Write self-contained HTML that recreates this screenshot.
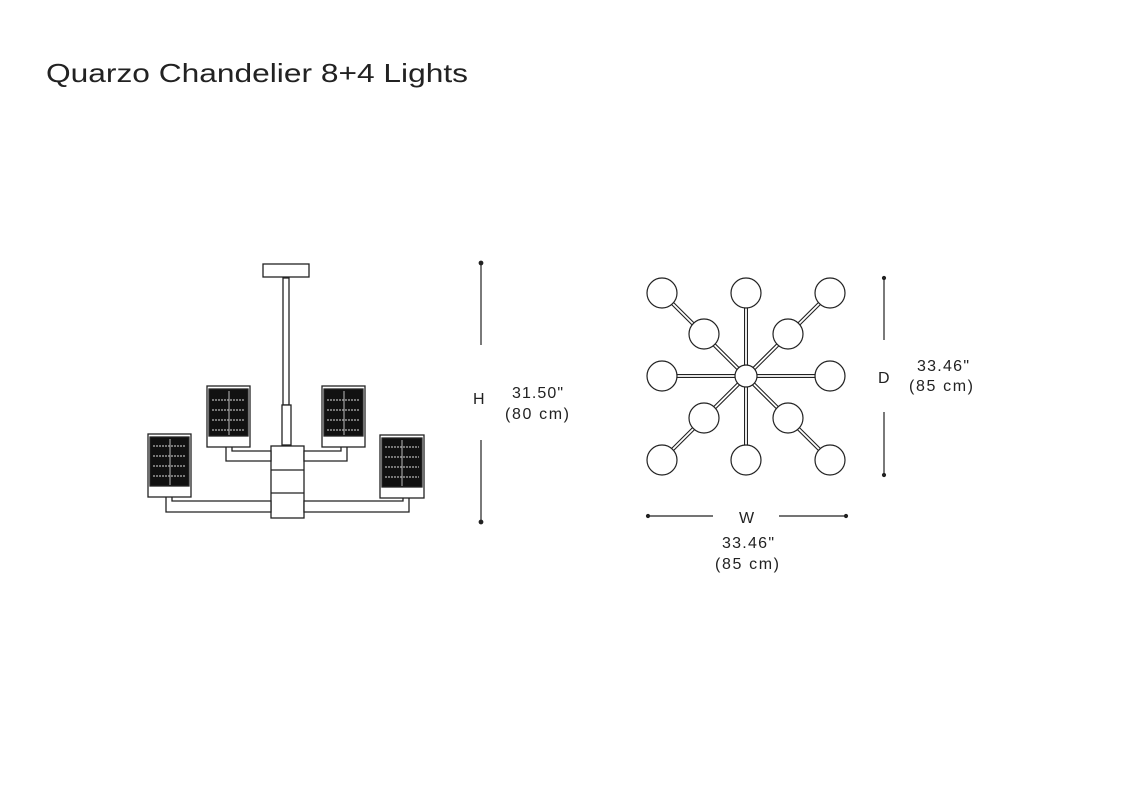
<!DOCTYPE html>
<html><head><style>
body{margin:0;background:#fff;width:1136px;height:800px;overflow:hidden;font-family:"Liberation Sans",sans-serif;}
</style></head><body>
<svg width="1136" height="800" xmlns="http://www.w3.org/2000/svg" font-family="Liberation Sans, sans-serif">
<text x="46" y="82" font-size="26" fill="#222" textLength="422" lengthAdjust="spacingAndGlyphs">Quarzo Chandelier 8+4 Lights</text>
<g stroke="#222" stroke-width="1.3" fill="#fff">
<rect x="263" y="264" width="46" height="13"/>
<rect x="283" y="278" width="6" height="127"/>
<rect x="282" y="405" width="9" height="40"/>
<rect x="271" y="446" width="33" height="72"/>
<line x1="271" y1="470" x2="304" y2="470"/>
<line x1="271" y1="493" x2="304" y2="493"/>
<path d="M226 447 V461 H271 V451 H232 V447"/>
<path d="M347 447 V461 H304 V451 H341 V447"/>
<path d="M166 497 V512 H271 V501 H172 V497"/>
<path d="M409 497 V512 H304 V501 H403 V497"/>
</g>
<g stroke="#222" stroke-width="1.3">
<rect x="207" y="386" width="43" height="61" fill="#fff"/>
<rect x="209" y="389" width="39" height="47" fill="#111"/>
<rect x="322" y="386" width="43" height="61" fill="#fff"/>
<rect x="324" y="389" width="39" height="47" fill="#111"/>
<rect x="148" y="434" width="43" height="63" fill="#fff"/>
<rect x="150" y="437" width="39" height="49" fill="#111"/>
<rect x="380" y="435" width="44" height="63" fill="#fff"/>
<rect x="382" y="438" width="40" height="49" fill="#111"/>
</g>
<g stroke="#ddd" stroke-width="1" stroke-dasharray="2 1">
<path d="M212 400h33M212 410h33M212 420h33M212 430h33M327 400h33M327 410h33M327 420h33M327 430h33M153 446h33M153 456h33M153 466h33M153 476h33M385 447h34M385 457h34M385 467h34M385 477h34"/>
<path d="M229 391v44M344 391v44M170 439v46M402 440v46" stroke-dasharray="none" stroke="#bbb"/>
</g>
<g stroke="#222" stroke-width="1.2" fill="#222">
<line x1="481" y1="263" x2="481" y2="345"/>
<line x1="481" y1="440" x2="481" y2="522"/>
<circle cx="481" cy="263" r="1.8"/><circle cx="481" cy="522" r="1.8"/>
<line x1="884" y1="278" x2="884" y2="340"/>
<line x1="884" y1="412" x2="884" y2="475"/>
<circle cx="884" cy="278" r="1.5"/><circle cx="884" cy="475" r="1.5"/>
<line x1="648" y1="516" x2="713" y2="516"/>
<line x1="779" y1="516" x2="846" y2="516"/>
<circle cx="648" cy="516" r="1.5"/><circle cx="846" cy="516" r="1.5"/>
</g>
<g font-size="16" fill="#222" lengthAdjust="spacingAndGlyphs">
<text x="473" y="404">H</text>
<text x="512" y="398" textLength="51">31.50"</text>
<text x="505" y="419" textLength="64">(80 cm)</text>
<text x="878" y="383">D</text>
<text x="917" y="371" textLength="52">33.46"</text>
<text x="909" y="391" textLength="64">(85 cm)</text>
<text x="739" y="523">W</text>
<text x="722" y="548" textLength="52">33.46"</text>
<text x="715" y="569" textLength="64">(85 cm)</text>
</g>
<g stroke="#222" stroke-width="1.2" fill="none">
<g stroke-width="4"><path d="M662 293L830 460M830 293L662 460M746 293V460M662 376H830"/></g>
<g stroke="#fff" stroke-width="1.8"><path d="M662 293L830 460M830 293L662 460M746 293V460M662 376H830"/></g>
<g fill="#fff">
<circle cx="746" cy="376" r="11"/>
<circle cx="662" cy="293" r="15"/><circle cx="746" cy="293" r="15"/><circle cx="830" cy="293" r="15"/>
<circle cx="662" cy="376" r="15"/><circle cx="830" cy="376" r="15"/>
<circle cx="662" cy="460" r="15"/><circle cx="746" cy="460" r="15"/><circle cx="830" cy="460" r="15"/>
<circle cx="704" cy="334" r="15"/><circle cx="788" cy="334" r="15"/>
<circle cx="704" cy="418" r="15"/><circle cx="788" cy="418" r="15"/>
</g>
</g>
</svg>
</body></html>
